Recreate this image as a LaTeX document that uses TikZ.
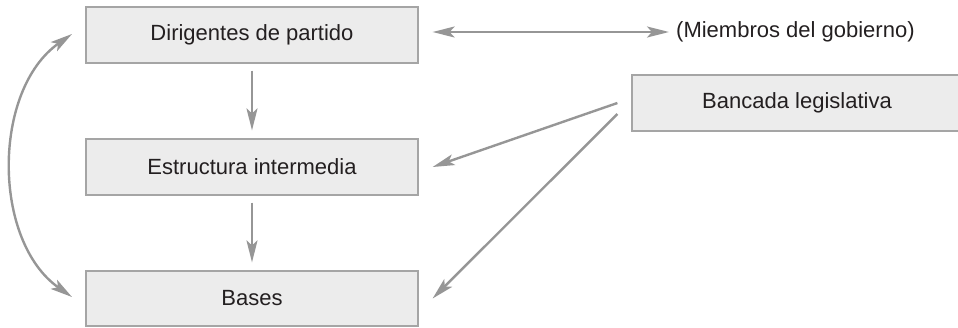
\documentclass[tikz,border=0pt]{standalone}
\usepackage{fontspec}
\setmainfont{Liberation Sans}
\usepackage{tikz}
\usetikzlibrary{arrows.meta}

\definecolor{boxfill}{RGB}{236,236,236}
\definecolor{boxline}{RGB}{165,165,165}
\definecolor{arrowgray}{RGB}{150,150,150}
\definecolor{textdark}{RGB}{35,31,32}

\tikzset{
  caja/.style={draw=boxline, line width=1.2pt, fill=boxfill, text=textdark,
    minimum width=332pt, minimum height=56pt, inner sep=0pt,
    font=\fontsize{22}{26}\selectfont},
  flecha/.style={draw=arrowgray, line width=2.4pt,
    -{Stealth[length=22pt,width=11pt,inset=5pt]}},
  dobleflecha/.style={draw=arrowgray, line width=2.4pt,
    {Stealth[length=22pt,width=11pt,inset=5pt]}-{Stealth[length=22pt,width=11pt,inset=5pt]}}
}

\begin{document}
\begin{tikzpicture}[x=1pt,y=-1pt]
    \pgfmathsetmacro{\xc}{252}
    \pgfmathsetmacro{\gap}{14}
    \useasboundingbox (0,0) rectangle (958,327);

    % Draw the boxes
    \node[caja] (dir) at (\xc,35) {Dirigentes de partido};
    \node[caja] (est) at (\xc,167) {Estructura intermedia};
    \node[caja,minimum height=55pt] (bas) at (\xc,298.5) {Bases};
    \node[caja,minimum width=330pt] (ban) at (797,103) {Bancada legislativa};
    \node[text=textdark,anchor=west,inner sep=0pt,
      font=\fontsize{22}{26}\selectfont] (mie) at (676,32) {(Miembros del gobierno)};

    % Coordinates for the curved arrow
    \coordinate (ca) at (72,34);
    \coordinate (cb) at (72,297);

    % Vertical arrows
    \draw[flecha, shorten <=7pt, shorten >=8pt] (dir.south) -- (est.north);
    \draw[flecha, shorten <=7pt, shorten >=8pt] (est.south) -- (bas.north);

    % Arrow to the government
    \draw[dobleflecha] ([xshift=\gap pt,yshift=3pt]dir.east) -- ([xshift=-7pt]mie.west);

    % Arrows from the legislative group
    \draw[flecha] ([xshift=-\gap pt]ban.west) -- ([xshift=\gap pt]est.east);
    \draw[flecha] ([xshift=-\gap pt,yshift=-11pt]ban.west) -- ([xshift=\gap pt]bas.east);

    % Curved arrow on the left
    \draw[dobleflecha] (ca) .. controls (-8,90) and (-8,241) .. (cb);
\end{tikzpicture}
\end{document}
